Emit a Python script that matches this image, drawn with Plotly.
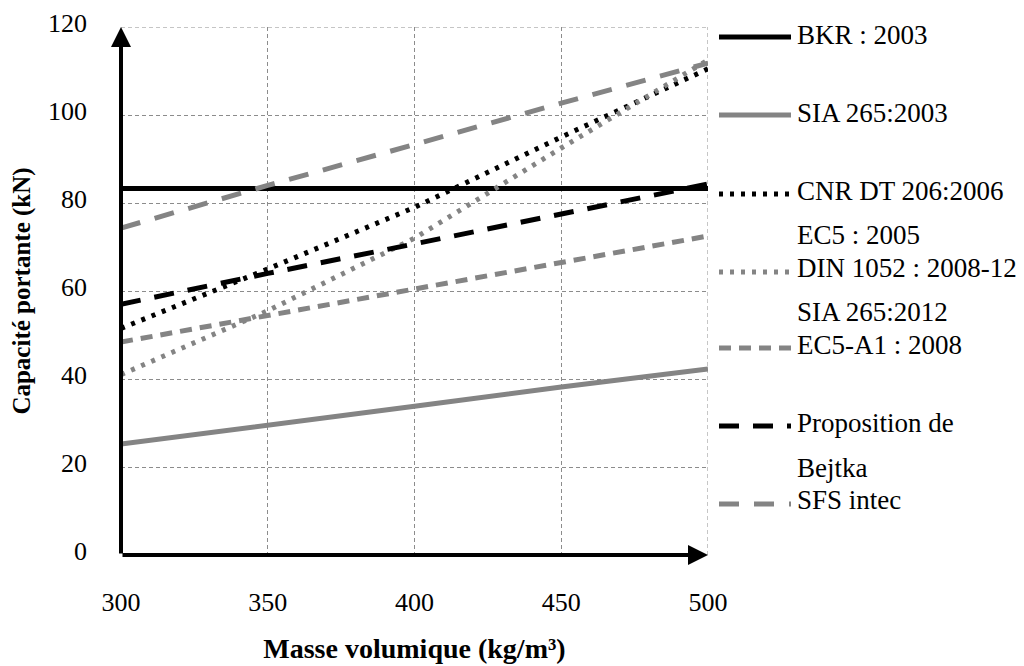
import plotly.graph_objects as go

# ---- data ----
rho = [300, 350, 400, 450, 500]
bkr_2003 = [83.3, 83.3, 83.3, 83.3, 83.3]
sia_2003 = [25.2, 29.4, 33.8, 38.2, 42.3]
cnr_2006 = [51.5, 65.0, 79.0, 95.0, 110.5]
din_1052 = [41.0, 55.5, 72.0, 92.5, 112.5]
ec5_a1 = [48.4, 54.4, 60.6, 66.6, 72.5]
bejtka = [57.0, 64.0, 70.7, 77.5, 84.3]
sfs_intec = [74.3, 84.0, 93.3, 102.7, 111.8]

x_ticks = [300, 350, 400, 450, 500]
y_ticks = [0, 20, 40, 60, 80, 100, 120]

BLACK = "#000000"
GRAY = "#848484"
FONT = "Liberation Serif"

series = [
    (bkr_2003, BLACK, "solid"),
    (sia_2003, GRAY, "solid"),
    (cnr_2006, BLACK, "4px,7px"),
    (din_1052, GRAY, "4px,7px"),
    (ec5_a1, GRAY, "12px,8px"),
    (bejtka, BLACK, "20px,14px"),
    (sfs_intec, GRAY, "20px,15px"),
]

fig = go.Figure()
for vals, col, dash in series:
    fig.add_trace(go.Scatter(x=rho, y=vals, mode="lines",
                             line=dict(color=col, width=5, dash=dash),
                             showlegend=False, hoverinfo="skip"))

W, H = 1024, 666
L, R, T, B = 121, 316, 27, 111
pw, ph = W - L - R, H - T - B


def px_x(p):
    return (p - L) / pw


def px_y(p):
    return (H - B - p) / ph


# ---- manual legend ----
legend_lines = [
    (37, BLACK, "solid"),
    (115, GRAY, "solid"),
    (194, BLACK, "4px,7px"),
    (272, GRAY, "4px,7px"),
    (348, GRAY, "12px,8px"),
    (426, BLACK, "20px,14px"),
    (504, GRAY, "20px,15px"),
]
legend_texts = [
    (35, "BKR : 2003"),
    (113, "SIA 265:2003"),
    (191, "CNR DT 206:2006"),
    (235, "EC5 : 2005"),
    (268, "DIN 1052 : 2008-12"),
    (312, "SIA 265:2012"),
    (345, "EC5-A1 : 2008"),
    (423, "Proposition de"),
    (468, "Bejtka"),
    (500, "SFS intec"),
]
shapes = []
for yy, col, dash in legend_lines:
    shapes.append(dict(type="line", xref="paper", yref="paper",
                       x0=px_x(719), x1=px_x(791), y0=px_y(yy), y1=px_y(yy),
                       line=dict(color=col, width=5, dash=dash)))

annotations = []
for yy, txt in legend_texts:
    annotations.append(dict(xref="paper", yref="paper", x=px_x(795), y=px_y(yy),
                            xanchor="left", yanchor="middle", showarrow=False,
                            text=txt, font=dict(family=FONT, size=27, color="black")))

# grid border lines at x=500 and y=120
shapes.append(dict(type="line", xref="x", yref="y", x0=500, x1=500, y0=0, y1=120,
                   line=dict(color="#8c8c8c", width=1, dash="4px,3px"), layer="below"))
shapes.append(dict(type="line", xref="x", yref="y", x0=300, x1=500, y0=120, y1=120,
                   line=dict(color="#8c8c8c", width=1, dash="4px,3px"), layer="below"))

# axes with arrows
annotations.append(dict(x=500, y=0, ax=300, ay=0, xref="x", yref="y", axref="x", ayref="y",
                        text="", showarrow=True, arrowhead=2, arrowsize=1.0,
                        arrowwidth=4, arrowcolor="black", standoff=0, startstandoff=0))
annotations.append(dict(x=300, y=120, ax=300, ay=0, xref="x", yref="y", axref="x", ayref="y",
                        text="", showarrow=True, arrowhead=2, arrowsize=1.0,
                        arrowwidth=4, arrowcolor="black", standoff=0, startstandoff=0))

fig.update_layout(
    width=W, height=H,
    margin=dict(l=L, r=R, t=T, b=B, pad=0, autoexpand=False),
    paper_bgcolor="white", plot_bgcolor="white",
    font=dict(family=FONT, size=26, color="black"),
    shapes=shapes, annotations=annotations,
    xaxis=dict(range=[300, 500], tickvals=x_ticks, ticktext=[str(v) for v in x_ticks],
               showgrid=True, gridcolor="#8c8c8c", gridwidth=1, griddash="4px,3px",
               zeroline=False, showline=False, ticks="", ticklabelstandoff=29,
               automargin=False,
               tickfont=dict(family=FONT, size=26),
               title=dict(text="<b>Masse volumique (kg/m³)</b>", standoff=22,
                          font=dict(family=FONT, size=28))),
    yaxis=dict(range=[0, 120], tickvals=y_ticks, ticktext=[str(v) for v in y_ticks],
               showgrid=True, gridcolor="#8c8c8c", gridwidth=1, griddash="4px,3px",
               zeroline=False, showline=False, ticks="", ticklabelstandoff=33,
               ticklabelshift=-4, automargin=False,
               tickfont=dict(family=FONT, size=26),
               title=dict(text="<b>Capacité portante (kN)</b>", standoff=10,
                          font=dict(family=FONT, size=25))),
)

fig.write_html("out.html", config={"displayModeBar": False},
               post_script="document.body.style.margin='0px';")
